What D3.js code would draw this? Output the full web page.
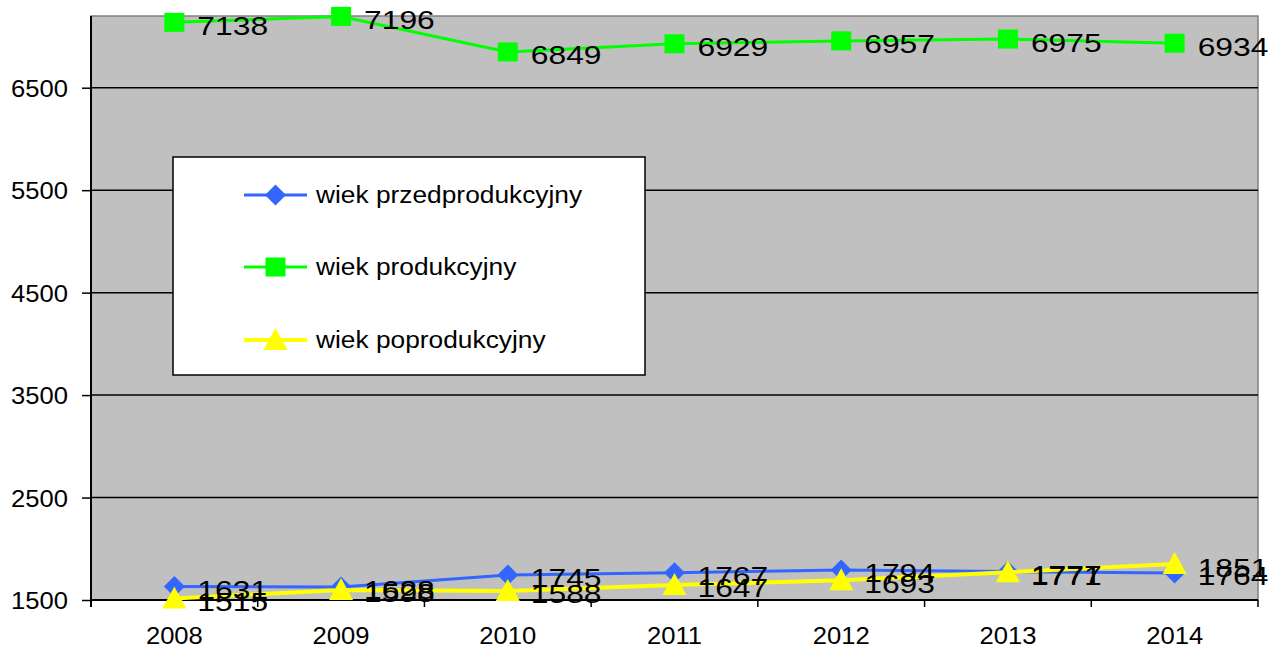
<!DOCTYPE html>
<html><head><meta charset="utf-8">
<script src="https://cdn.jsdelivr.net/npm/d3@7"></script>
<style>
html,body{margin:0;padding:0;background:#fff;}
svg{display:block;font-family:"Liberation Sans",Arial,sans-serif;}
</style></head>
<body><svg id="c" width="1280" height="649"></svg>
<script>
const years = ["2008","2009","2010","2011","2012","2013","2014"];
const przedprodukcyjny = [1631,1628,1745,1767,1794,1777,1764];
const produkcyjny = [7138,7196,6849,6929,6957,6975,6934];
const poprodukcyjny = [1515,1598,1588,1647,1693,1771,1851];
const yTicks = [1500,2500,3500,4500,5500,6500];
const seriesNames = ["wiek przedprodukcyjny","wiek produkcyjny","wiek poprodukcyjny"];

const series = [
  {name:seriesNames[0], values:przedprodukcyjny, color:"#3366FF", marker:"diamond", width:3},
  {name:seriesNames[1], values:produkcyjny, color:"#00FF00", marker:"square", width:3},
  {name:seriesNames[2], values:poprodukcyjny, color:"#FFFF00", marker:"triangle", width:4}
];

const svg = d3.select("#c");
const L=91, R=1258, T=16, B=600;
const x = d3.scaleBand().domain(years).range([L,R]);
const y = d3.scaleLinear().domain([1500,7200]).range([B,T]);

// plot background
svg.append("rect").attr("x",L).attr("y",T).attr("width",R-L).attr("height",B-T)
  .attr("fill","#C0C0C0").attr("stroke","#808080").attr("stroke-width",1.5);

// gridlines
svg.append("g").selectAll("line").data(yTicks.slice(1)).join("line")
  .attr("x1",L).attr("x2",R).attr("y1",d=>y(d)).attr("y2",d=>y(d))
  .attr("stroke","#000").attr("stroke-width",1.5);

// y axis
const yAxis = svg.append("g").attr("transform",`translate(${L},0)`)
  .call(d3.axisLeft(y).tickValues(yTicks).tickSize(9).tickPadding(0).tickFormat(d3.format("d")));
yAxis.select(".domain").remove();
yAxis.selectAll(".tick line").attr("stroke","#000").attr("stroke-width",1.5);
yAxis.selectAll(".tick text").attr("font-size",23.7).attr("fill","#000")
  .attr("x",null).attr("dy",null)
  .attr("text-anchor","end")
  .attr("transform","translate(-23,8.5) scale(1.08,1)")
  .attr("font-family","Liberation Sans, Arial, sans-serif");
svg.append("line").attr("x1",L).attr("x2",L).attr("y1",T).attr("y2",B+7).attr("stroke","#000").attr("stroke-width",2);

// x axis
const xAxis = svg.append("g").attr("transform",`translate(0,${B})`)
  .call(d3.axisBottom(x).tickSize(0).tickPadding(0));
xAxis.select(".domain").remove();
xAxis.selectAll(".tick text").attr("font-size",23.7).attr("fill","#000")
  .attr("y",null).attr("dy",null)
  .attr("transform","translate(0,44) scale(1.08,1)")
  .attr("font-family","Liberation Sans, Arial, sans-serif");
svg.append("line").attr("x1",L).attr("x2",R).attr("y1",B).attr("y2",B).attr("stroke","#000").attr("stroke-width",2);
svg.append("g").selectAll("line").data(years.slice(1).concat(["end"])).join("line")
  .attr("x1",d=>d==="end"?R:x(d)).attr("x2",d=>d==="end"?R:x(d))
  .attr("y1",B).attr("y2",B+7).attr("stroke","#000").attr("stroke-width",1.5);

const cx = d=>x(d)+x.bandwidth()/2;

function marker(g, type, color){
  if(type==="diamond"){
    g.append("path").attr("d","M0,-10.5L10.5,0L0,10.5L-10.5,0Z").attr("fill",color);
  } else if(type==="square"){
    g.append("rect").attr("x",-10).attr("y",-9.5).attr("width",20).attr("height",19).attr("fill",color);
  } else {
    g.append("path").attr("d","M0,-12L12,10L-12,10Z").attr("fill",color);
  }
}

const line = d3.line().x((d,i)=>cx(years[i])).y(d=>y(d));
series.forEach(s=>{
  svg.append("path").datum(s.values).attr("d",line).attr("fill","none")
    .attr("stroke",s.color).attr("stroke-width",s.width);
  s.values.forEach((v,i)=>{
    const g = svg.append("g").attr("transform",`translate(${cx(years[i])},${y(v)})`);
    marker(g,s.marker,s.color);
  });
});
// data labels
series.forEach(s=>{
  s.values.forEach((v,i)=>{
    svg.append("text").text(v)
      .attr("transform",`translate(${cx(years[i])+23},${y(v)+12.5}) scale(1.2,1)`)
      .attr("font-size",26.5).attr("fill","#000");
  });
});

// legend
const lg = svg.append("g");
lg.append("rect").attr("x",173).attr("y",157).attr("width",472).attr("height",218)
  .attr("fill","#fff").attr("stroke","#000").attr("stroke-width",1.5);
const rowY = [195,267,340];
series.forEach((s,i)=>{
  lg.append("line").attr("x1",244).attr("x2",307).attr("y1",rowY[i]).attr("y2",rowY[i])
    .attr("stroke",s.color).attr("stroke-width",s.width);
  const g = lg.append("g").attr("transform",`translate(275.5,${rowY[i]})`);
  marker(g,s.marker,s.color);
  lg.append("text").text(s.name)
    .attr("transform",`translate(316,${rowY[i]+8}) scale(1.12,1)`)
    .attr("font-size",23.5).attr("fill","#000");
});
</script></body></html>
